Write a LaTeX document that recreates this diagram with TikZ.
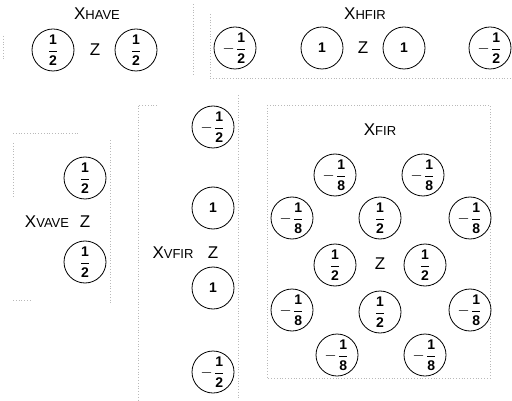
\documentclass[tikz,border=0pt]{standalone}
\usepackage{amsmath}
\usepackage{fontspec}
\setsansfont{Liberation Sans}
\tikzset{
  coef/.style={circle,draw,thin,minimum size=21pt,inner sep=0pt,
    font=\sffamily\bfseries\fontsize{7}{8}\selectfont},
  lbl/.style={font=\sffamily\fontsize{8.5}{10}\selectfont},
  frame/.style={densely dotted,gray!55,thin}
}
\newcommand{\half}{$\dfrac{\text{1}}{\text{2}}$}
\newcommand{\mhalf}{$-\dfrac{\text{1}}{\text{2}}$}
\newcommand{\meighth}{$-\dfrac{\text{1}}{\text{8}}$}
\newcommand{\xlab}[1]{X{\fontsize{6.5}{7}\selectfont #1}}
\begin{document}
\begin{tikzpicture}[x=0.5pt,y=-0.5pt]
  \useasboundingbox (0,0) rectangle (512,400);
  % Frames (dotted)
  \draw[frame] (193,4) -- (193,76);
  \draw[frame] (3,36) -- (3,60);
  \draw[frame] (210,14) -- (210,78) -- (512,78);
  \draw[frame] (13,133) -- (80,133);
  \draw[frame] (13,143) -- (13,197);
  \draw[frame] (110,140) -- (110,305);
  \draw[frame] (13,300) -- (30,300);
  \draw[frame] (157,105) -- (138,105) -- (138,400);
  \draw[frame] (238,95) -- (238,400);
  \draw[frame] (267,105) rectangle (490,378);
  % Horizontal average
  \node[lbl] (have) at (97,14) {\xlab{HAVE}};
  \node[coef] (ha1) at (53,50) {\half};
  \node[lbl] (hz) at (95,50) {Z};
  \node[coef] (ha2) at (136,50) {\half};
  % Horizontal filter
  \node[lbl] (hfir) at (365,14) {\xlab{HFIR}};
  \node[coef] (hf1) at (235,48) {\mhalf};
  \node[coef] (hf2) at (322,48) {1};
  \node[lbl] (hfz) at (363,48) {Z};
  \node[coef] (hf3) at (404,48) {1};
  \node[coef] (hf4) at (490,48) {\mhalf};
  % Vertical average
  \node[lbl] (vave) at (47,222) {\xlab{VAVE}};
  \node[lbl] (vz) at (85,222) {Z};
  \node[coef] (va1) at (85,178) {\half};
  \node[coef] (va2) at (85,262) {\half};
  % Vertical filter
  \node[lbl] (vfir) at (173,253) {\xlab{VFIR}};
  \node[lbl] (vfz) at (213,253) {Z};
  \node[coef] (vf1) at (213,127) {\mhalf};
  \node[coef] (vf2) at (213,208) {1};
  \node[coef] (vf3) at (213,288) {1};
  \node[coef] (vf4) at (213,372) {\mhalf};
  % 2-D filter
  \node[lbl] (fir) at (380,130) {\xlab{FIR}};
  \node[coef] (f1) at (335,175) {\meighth};
  \node[coef] (f2) at (423,175) {\meighth};
  \node[coef] (f3) at (292,218) {\meighth};
  \node[coef] (f4) at (380,218) {\half};
  \node[coef] (f5) at (470,218) {\meighth};
  \node[coef] (f6) at (335,265) {\half};
  \node[lbl] (fz) at (380,264) {Z};
  \node[coef] (f7) at (425,265) {\half};
  \node[coef] (f8) at (292,310) {\meighth};
  \node[coef] (f9) at (380,312) {\half};
  \node[coef] (f10) at (470,310) {\meighth};
  \node[coef] (f11) at (337,355) {\meighth};
  \node[coef] (f12) at (425,355) {\meighth};
\end{tikzpicture}
\end{document}
